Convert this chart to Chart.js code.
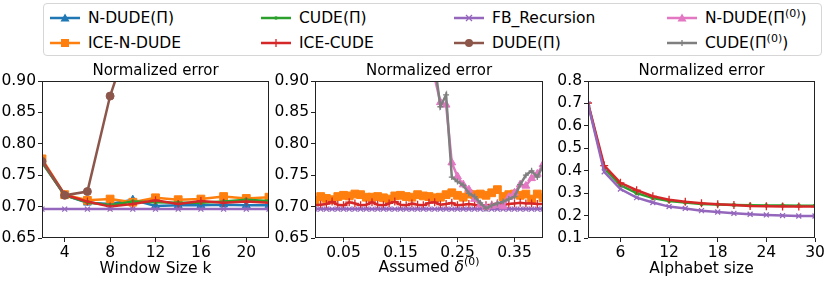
<!DOCTYPE html>
<html>
<head>
<meta charset="utf-8">
<script src="https://cdn.jsdelivr.net/npm/chart.js@4.4.0/dist/chart.umd.min.js"></script>
<style>
  body { margin:0; width:830px; height:281px; background:#fff; overflow:hidden; font-family:'DejaVu Sans', sans-serif; }
  .panel { position:absolute; top:60px; }
  #legend { position:absolute; left:43px; top:3px; width:779px; height:53px; border:1px solid #d6d6d6; border-radius:4px; box-sizing:border-box; }
  .item { position:absolute; height:20px; display:flex; align-items:center; font-size:15.5px; color:#000; white-space:nowrap; }
  .item svg { margin-right:8px; }
  .item sup { font-size:11px; line-height:0; vertical-align:6px; }
</style>
</head>
<body>
<div id="legend"></div>
<canvas id="c1" class="panel" style="left:0px" width="278" height="221"></canvas>
<canvas id="c2" class="panel" style="left:275px" width="275" height="221"></canvas>
<canvas id="c3" class="panel" style="left:548px" width="282" height="221"></canvas>
<script>
Chart.defaults.font.family = "'DejaVu Sans', sans-serif";
Chart.defaults.color = '#000';

// ---- panel 1: window size k
const windowK   = [2, 4, 6, 8, 10, 12, 14, 16, 18, 20, 22];
const kNdude    = [0.772, 0.718, 0.706, 0.704, 0.711, 0.701, 0.702, 0.702, 0.703, 0.702, 0.702];
const kIceNdude = [0.776, 0.719, 0.710, 0.712, 0.707, 0.714, 0.711, 0.712, 0.716, 0.713, 0.715];
const kCude     = [0.770, 0.718, 0.707, 0.702, 0.708, 0.707, 0.706, 0.706, 0.708, 0.711, 0.709];
const kIceCude  = [0.774, 0.719, 0.708, 0.700, 0.704, 0.710, 0.704, 0.709, 0.706, 0.708, 0.706];
const kFb       = [0.696, 0.696, 0.696, 0.696, 0.696, 0.696, 0.696, 0.696, 0.696, 0.696, 0.696];
const kDude     = [0.772, 0.718, 0.724, 0.876, 0.985, 1.08, 1.17, 1.25, 1.32, 1.38, 1.43];
const kTicks    = [4, 8, 12, 16, 20];

// ---- panel 2: assumed delta
const delta = [0.00, 0.01, 0.02, 0.03, 0.04, 0.05, 0.06, 0.07, 0.08, 0.09, 0.10,
               0.11, 0.12, 0.13, 0.14, 0.15, 0.16, 0.17, 0.18, 0.19, 0.20,
               0.21, 0.22, 0.23, 0.24, 0.25, 0.26, 0.27, 0.28, 0.29, 0.30,
               0.31, 0.32, 0.33, 0.34, 0.35, 0.36, 0.37, 0.38, 0.39, 0.40];
const dIceNdude = [0.710, 0.716, 0.713, 0.711, 0.716, 0.718, 0.717, 0.720, 0.719, 0.715, 0.715,
                   0.716, 0.714, 0.712, 0.717, 0.718, 0.716, 0.715, 0.719, 0.717, 0.716,
                   0.714, 0.715, 0.719, 0.722, 0.718, 0.715, 0.720, 0.719, 0.720, 0.718,
                   0.722, 0.727, 0.716, 0.719, 0.720, 0.718, 0.720, 0.712, 0.720, 0.714];
const dIceCude  = [0.702, 0.703, 0.704, 0.708, 0.703, 0.702, 0.707, 0.705, 0.702, 0.703, 0.707,
                   0.703, 0.702, 0.705, 0.708, 0.703, 0.702, 0.705, 0.703, 0.702, 0.706,
                   0.707, 0.703, 0.704, 0.706, 0.702, 0.703, 0.704, 0.703, 0.701, 0.702,
                   0.703, 0.705, 0.703, 0.704, 0.705, 0.706, 0.705, 0.705, 0.704, 0.704];
const dFb       = [0.696, 0.696, 0.696, 0.696, 0.696, 0.696, 0.696, 0.696, 0.696, 0.696, 0.696,
                   0.696, 0.696, 0.696, 0.696, 0.696, 0.696, 0.696, 0.696, 0.696, 0.696,
                   0.696, 0.696, 0.696, 0.696, 0.696, 0.696, 0.696, 0.696, 0.696, 0.696,
                   0.696, 0.696, 0.696, 0.696, 0.696, 0.696, 0.696, 0.696, 0.696, 0.696];
const dNdude0   = [1.42, 1.40, 1.39, 1.37, 1.35, 1.33, 1.31, 1.29, 1.27, 1.25, 1.22,
                   1.20, 1.17, 1.15, 1.12, 1.10, 1.07, 1.04, 1.01, 0.98, 0.95,
                   0.905, 0.866, 0.862, 0.770, 0.748, 0.735, 0.727, 0.712, 0.703, 0.699,
                   0.701, 0.703, 0.700, 0.715, 0.722, 0.735, 0.733, 0.745, 0.752, 0.767];
const dCude0    = [1.40, 1.39, 1.37, 1.36, 1.34, 1.32, 1.30, 1.28, 1.26, 1.24, 1.21,
                   1.19, 1.16, 1.14, 1.11, 1.09, 1.06, 1.03, 1.00, 0.97, 0.95,
                   0.927, 0.859, 0.878, 0.747, 0.740, 0.734, 0.721, 0.716, 0.706, 0.697,
                   0.702, 0.705, 0.708, 0.712, 0.716, 0.735, 0.750, 0.757, 0.747, 0.765];
const dTicks    = [0.05, 0.15, 0.25, 0.35];

// ---- panel 3: alphabet size
const alphabet  = [2, 4, 6, 8, 10, 12, 14, 16, 18, 20, 22, 24, 26, 28, 30];
const aCude     = [0.700, 0.410, 0.335, 0.300, 0.278, 0.265, 0.258, 0.252, 0.249, 0.247, 0.246, 0.245, 0.245, 0.244, 0.244];
const aIceCude  = [0.702, 0.423, 0.346, 0.313, 0.286, 0.271, 0.262, 0.255, 0.250, 0.247, 0.243, 0.242, 0.241, 0.240, 0.240];
const aFb       = [0.698, 0.395, 0.318, 0.280, 0.258, 0.240, 0.232, 0.222, 0.216, 0.210, 0.206, 0.203, 0.200, 0.198, 0.198];
const aTicks    = [6, 12, 18, 24, 30];

const errTicks1 = [0.65, 0.70, 0.75, 0.80, 0.85, 0.90];
const errTicks3 = [0.1, 0.2, 0.3, 0.4, 0.5, 0.6, 0.7, 0.8];

const FS = 15.5;   // tick / label font size

// series look (matplotlib tab10 + markers)
const series = {
  ndude:    { label: 'N-DUDE(Π)',    color: '#1f77b4', marker: 'triangle', r: 4.5 },
  iceNdude: { label: 'ICE-N-DUDE',   color: '#ff7f0e', marker: 'rect',     r: 5.5 },
  cude:     { label: 'CUDE(Π)',      color: '#2ca02c', marker: 'circle',   r: 1.8 },
  iceCude:  { label: 'ICE-CUDE',     color: '#d62728', marker: 'cross',    r: 4 },
  fb:       { label: 'FB_Recursion', color: '#9467bd', marker: 'crossRot', r: 3.5 },
  dude:     { label: 'DUDE(Π)',      color: '#8c564b', marker: 'circle',   r: 4 },
  ndude0:   { label: 'N-DUDE(Π(0))', color: '#e377c2', marker: 'triangle', r: 4.5 },
  cude0:    { label: 'CUDE(Π(0))',   color: '#7f7f7f', marker: 'cross',    r: 3 }
};

function ds(key, xs, ys, i, n) {
  const s = series[key];
  return {
    label: s.label,
    data: xs.map((x, j) => ({ x: x, y: ys[j] })),
    borderColor: s.color,
    backgroundColor: s.color,
    pointBackgroundColor: s.color,
    pointBorderColor: s.color,
    pointStyle: s.marker,
    pointRadius: s.r,
    pointBorderWidth: (s.marker === 'cross' || s.marker === 'crossRot') ? 1.3 : 1,
    borderWidth: 2.5,
    tension: 0,
    order: n - i   // later series on top, like matplotlib
  };
}

const frame = {
  id: 'frame',
  afterDatasetsDraw(chart) {
    const a = chart.chartArea, ctx = chart.ctx;
    ctx.save();
    ctx.strokeStyle = '#222';
    ctx.lineWidth = 1;
    ctx.strokeRect(Math.round(a.left) + 0.5, Math.round(a.top) + 0.5,
                   Math.round(a.right - a.left) - 1, Math.round(a.bottom - a.top) - 1);
    ctx.restore();
  }
};

// x title with italic delta and superscript (0)
const deltaTitle = {
  id: 'deltaTitle',
  afterDraw(chart) {
    const a = chart.chartArea, ctx = chart.ctx;
    const y = chart.height - 4 - FS * 0.6;
    const fam = "'DejaVu Sans', sans-serif";
    const parts = [
      { t: 'Assumed ', f: `${FS}px ${fam}`, dy: 0 },
      { t: 'δ', f: `italic ${FS}px ${fam}`, dy: 0 },
      { t: '(0)', f: `${FS * 0.7}px ${fam}`, dy: -6 }
    ];
    ctx.save();
    ctx.fillStyle = '#000';
    ctx.textBaseline = 'middle';
    let w = 0;
    parts.forEach(p => { ctx.font = p.f; p.w = ctx.measureText(p.t).width; w += p.w; });
    let x = (a.left + a.right) / 2 - w / 2;
    parts.forEach(p => { ctx.font = p.f; ctx.fillText(p.t, x, y + p.dy); x += p.w; });
    ctx.restore();
  }
};

function panel(id, cfg) {
  const n = cfg.datasets.length;
  return new Chart(document.getElementById(id), {
    type: 'line',
    data: { datasets: cfg.datasets.map((d, i) => ds(d[0], cfg.xs, d[1], i, n)) },
    options: {
      responsive: false,
      animation: false,
      layout: { padding: { top: 0, right: cfg.padRight, bottom: 0, left: 0 } },
      plugins: {
        legend: { display: false },
        tooltip: { enabled: false },
        title: { display: true, text: 'Normalized error', fullSize: false, color: '#000',
                 font: { size: 15, weight: 'normal' }, padding: { top: 2, bottom: 1 } }
      },
      scales: {
        x: {
          type: 'linear', min: cfg.xMin, max: cfg.xMax,
          border: { display: false },
          grid: { drawOnChartArea: false, drawTicks: true, tickLength: 4, tickColor: '#222' },
          afterBuildTicks: s => { s.ticks = cfg.xTicks.map(v => ({ value: v })); },
          afterFit: s => { s.height = 43; },
          ticks: { autoSkip: false, maxRotation: 0, padding: 2, font: { size: FS },
                   callback: v => v.toFixed(cfg.xDec) },
          title: { display: cfg.xTitle !== '', text: cfg.xTitle, font: { size: FS }, padding: { top: 0, bottom: 3 } }
        },
        y: {
          min: cfg.yMin, max: cfg.yMax,
          border: { display: false },
          grid: { drawOnChartArea: false, drawTicks: true, tickLength: 4, tickColor: '#222' },
          afterBuildTicks: s => { s.ticks = cfg.yTicks.map(v => ({ value: v })); },
          afterFit: s => { s.width = cfg.yWidth; },
          ticks: { autoSkip: false, padding: 2, font: { size: FS },
                   callback: v => v.toFixed(cfg.yDec) }
        }
      }
    },
    plugins: cfg.extra ? [frame, cfg.extra] : [frame]
  });
}

panel('c1', {
  xs: windowK, xMin: 2, xMax: 22, xTicks: kTicks, xDec: 0, xTitle: 'Window Size k',
  yMin: 0.65, yMax: 0.90, yTicks: errTicks1, yDec: 2, yWidth: 42, padRight: 9,
  datasets: [['ndude', kNdude], ['iceNdude', kIceNdude], ['cude', kCude],
             ['iceCude', kIceCude], ['fb', kFb], ['dude', kDude]]
});

panel('c2', {
  xs: delta, xMin: 0, xMax: 0.40, xTicks: dTicks, xDec: 2, xTitle: '', extra: deltaTitle,
  yMin: 0.65, yMax: 0.90, yTicks: errTicks1, yDec: 2, yWidth: 40, padRight: 7,
  datasets: [['iceNdude', dIceNdude], ['iceCude', dIceCude], ['fb', dFb],
             ['ndude0', dNdude0], ['cude0', dCude0]]
});

panel('c3', {
  xs: alphabet, xMin: 2, xMax: 30, xTicks: aTicks, xDec: 0, xTitle: 'Alphabet size',
  yMin: 0.1, yMax: 0.8, yTicks: errTicks3, yDec: 1, yWidth: 40, padRight: 15,
  datasets: [['cude', aCude], ['iceCude', aIceCude], ['fb', aFb]]
});

// ---- legend (matplotlib style, 4 columns, column-major)
const legendOrder = ['ndude', 'iceNdude', 'cude', 'iceCude', 'fb', 'dude', 'ndude0', 'cude0'];
const colLeft = [6, 217, 410, 623];
const rowTop = [4, 29];

function marker(s) {
  const c = s.color, cx = 15, cy = 6;
  switch (s.marker) {
    case 'triangle': return `<polygon points="${cx},${cy-4.5} ${cx+4.5},${cy+3.5} ${cx-4.5},${cy+3.5}" fill="${c}"/>`;
    case 'rect': return `<rect x="${cx-4}" y="${cy-4}" width="8" height="8" fill="${c}"/>`;
    case 'cross': return `<path d="M${cx-s.r} ${cy}H${cx+s.r}M${cx} ${cy-s.r}V${cy+s.r}" stroke="${c}" stroke-width="1.3"/>`;
    case 'crossRot': return `<path d="M${cx-3} ${cy-3}L${cx+3} ${cy+3}M${cx+3} ${cy-3}L${cx-3} ${cy+3}" stroke="${c}" stroke-width="1.3"/>`;
    default: return `<circle cx="${cx}" cy="${cy}" r="${s.r}" fill="${c}"/>`;
  }
}

const legend = document.getElementById('legend');
legendOrder.forEach((key, i) => {
  const s = series[key];
  const col = Math.floor(i / 2), row = i % 2;
  const el = document.createElement('div');
  el.className = 'item';
  el.style.left = colLeft[col] + 'px';
  el.style.top = rowTop[row] + 'px';
  const text = s.label.replace('Π(0)', 'Π<sup>(0)</sup>');
  el.innerHTML = `<svg width="30" height="12"><line x1="0" y1="6" x2="30" y2="6" stroke="${s.color}" stroke-width="2.5"/>${marker(s)}</svg><span>${text}</span>`;
  legend.appendChild(el);
});
</script>
</body>
</html>
